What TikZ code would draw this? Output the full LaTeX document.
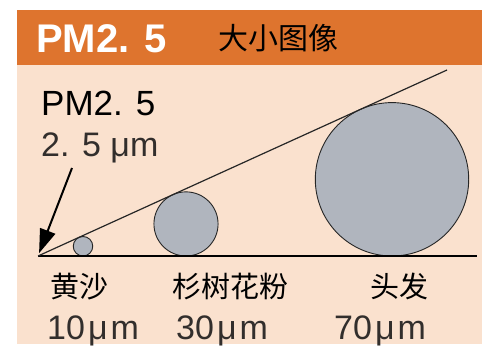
\documentclass[tikz,border=0pt]{standalone}
\usepackage{fontspec}
\setmainfont{Liberation Sans}
\newfontfamily\cjk{Noto Sans CJK SC}
\usetikzlibrary{arrows.meta}
\definecolor{barorange}{RGB}{222,116,46}
\definecolor{panelpeach}{RGB}{250,225,206}
\definecolor{dustgray}{RGB}{176,181,190}
\definecolor{sizegray}{RGB}{50,46,44}
\tikzset{
  particle/.style={circle, draw=black!85, line width=0.9pt, fill=dustgray, inner sep=0pt, minimum size=#1},
  namelabel/.style={anchor=base west, inner sep=0pt, font=\cjk\fontsize{29}{29}\selectfont},
  sizelabel/.style={anchor=base west, inner sep=0pt, text=sizegray, font=\fontsize{34}{34}\selectfont}
}
\begin{document}
\begin{tikzpicture}[x=1pt,y=-1pt]
              \useasboundingbox (0,0) rectangle (486,347);
              \fill[panelpeach] (17,10) rectangle (482,344);
              \fill[barorange] (17,10) rectangle (482,65);
              \pgfmathsetmacro{\base}{256};
              \pgfmathsetmacro{\t}{tan(atan2(186,409)/2)};
              \pgfmathsetmacro{\rs}{\t*(83-38)};
              \pgfmathsetmacro{\rm}{\t*(186-38)};
              \pgfmathsetmacro{\rh}{\t*(392-38)};
              \coordinate (apex) at (38,\base);
              \coordinate (baseend) at (477,\base);
              \coordinate (topend) at (447,70);
              \coordinate (tail) at (72,168);
              % title bar
              \node[anchor=base west, inner sep=0pt, text=white, font=\fontsize{40}{40}\selectfont\bfseries] (title) at (36,53) {PM2. 5};
              \node[anchor=base west, inner sep=0pt, font=\cjk\fontsize{30}{30}\selectfont] (caption) at (218,50) {大小图像};
              % particles
              \node[particle={2*\rs pt}] (sand) at (83,{\base-\rs}) {};
              \node[particle={2*\rm pt}] (pollen) at (186,{\base-\rm}) {};
              \node[particle={2*\rh pt}] (hair) at (392,{\base-\rh}) {};
              \draw[line width=1.5pt] (apex) -- (baseend);
              \draw[line width=1.2pt, black!85] (apex) -- (topend);
              % labels
              \node[anchor=base west, inner sep=0pt, font=\fontsize{35}{35}\selectfont] (pm) at (41,116) {PM2. 5};
              \node[sizelabel] (pmsize) at (41,157) {2. 5 μm};
              \draw[-{Triangle[length=24pt,width=16pt]}, line width=2pt, shorten >=3pt] (tail) -- (apex);
              \node[namelabel] (sandname) at (50,297) {黄沙};
              \node[namelabel] (pollenname) at (172,297) {杉树花粉};
              \node[namelabel] (hairname) at (370,297) {头发};
              \node[sizelabel] (sandsize) at (47,339) {10\kern3pt μ\kern3pt m};
              \node[sizelabel] (pollensize) at (176,339) {30\kern3pt μ\kern3pt m};
              \node[sizelabel] (hairsize) at (334,339) {70\kern3pt μ\kern3pt m};
        \end{tikzpicture}
\end{document}
